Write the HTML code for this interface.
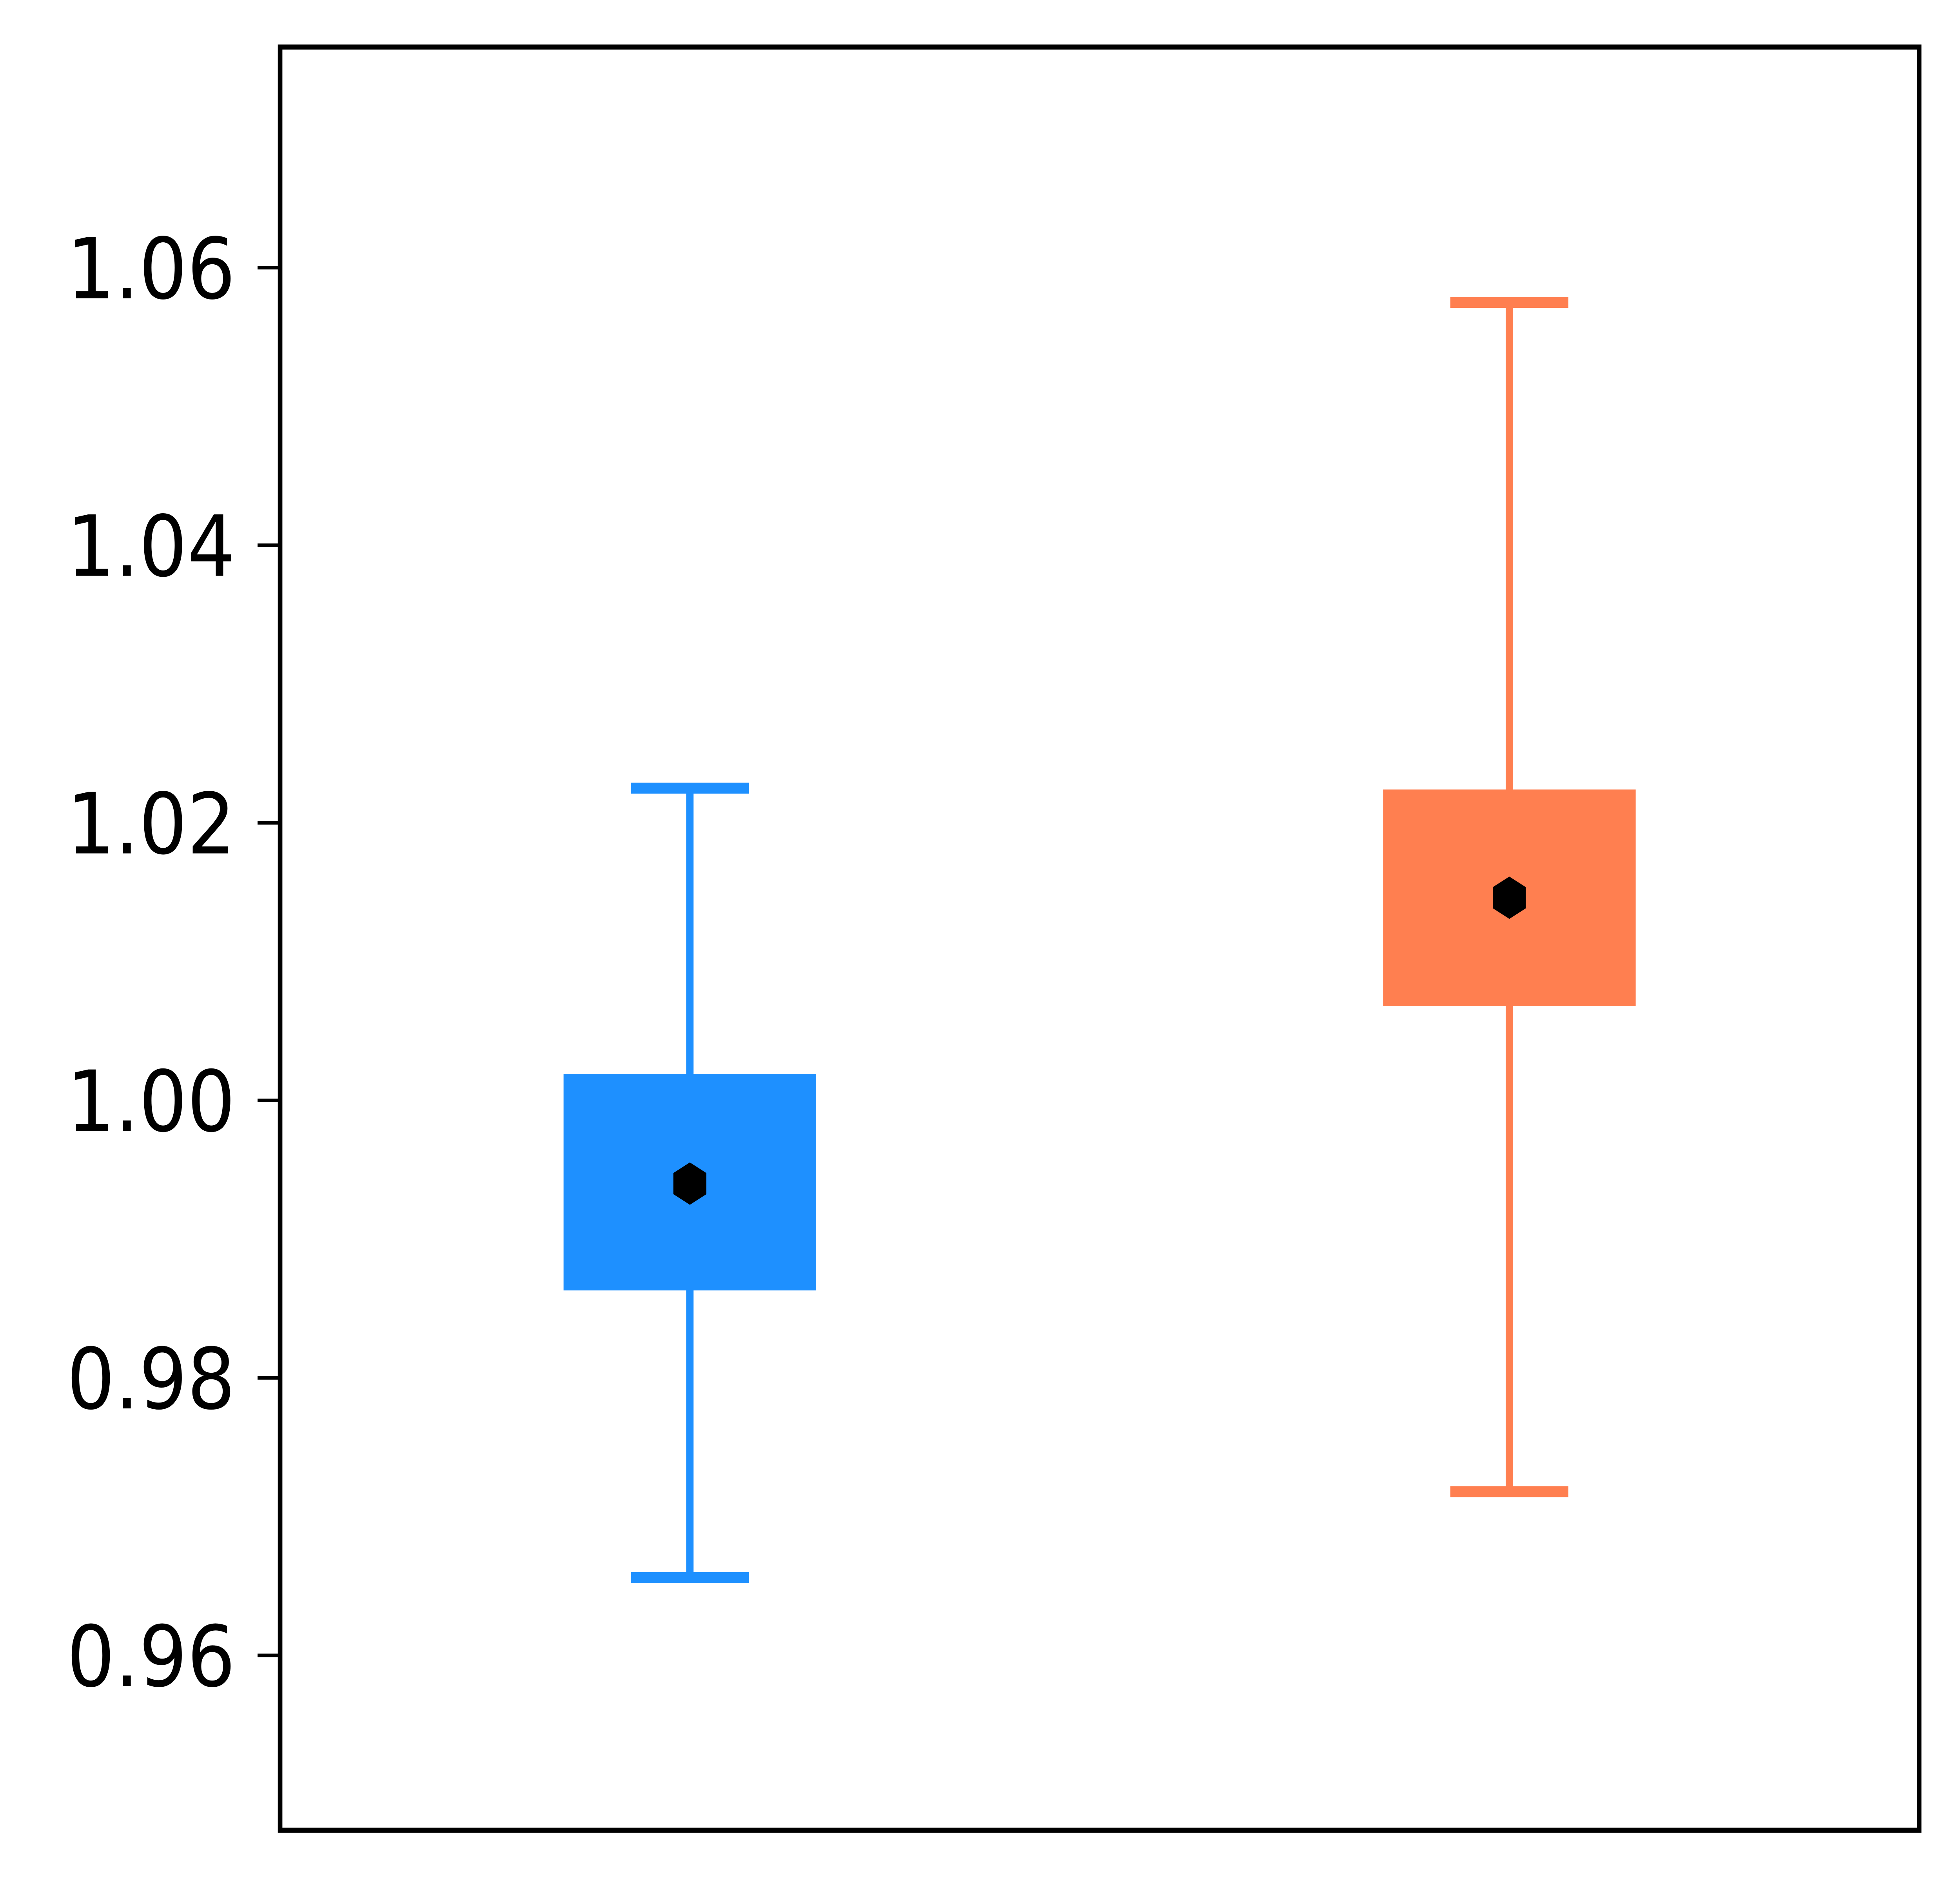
<!DOCTYPE html>
<html><head><meta charset="utf-8"><style>
html,body{margin:0;padding:0;background:#fff;width:100%;height:100%;overflow:hidden;}
svg{display:block;width:100vw;height:100vh;}
</style></head><body>
<svg id="chart" viewBox="0 0 5563 4828" preserveAspectRatio="none" xmlns="http://www.w3.org/2000/svg">
<rect x="0" y="0" width="5563" height="4828" fill="#fff"/>
<g id="plot"></g>
</svg>
<script>
const categories = ["A", "B"];
const colors = ["#1E90FF", "#FF7F50"];
const whiskerLow = [0.9656, 0.9718];
const q1 = [0.9863, 1.0068];
const q3 = [1.0019, 1.0224];
const whiskerHigh = [1.0225, 1.0575];
const means = [0.9940, 1.0146];
const tickValues = [0.96, 0.98, 1.00, 1.02, 1.04, 1.06];
const tickLabels = ["0.96", "0.98", "1.00", "1.02", "1.04", "1.06"];

const L = 795, R = 5447, T = 120, B = 4668;
const yMin = 0.9474, yMax = 1.0759;
function y(v){ return B - (v - yMin) / (yMax - yMin) * (B - T); }
function xc(i){ return L + (0.25 + 0.5 * i) * (R - L); }

const NS = "http://www.w3.org/2000/svg";
const g = document.getElementById('plot');
function el(tag, attrs, parent){
  const e = document.createElementNS(NS, tag);
  for (const k in attrs) e.setAttribute(k, attrs[k]);
  (parent || g).appendChild(e);
  return e;
}

const boxW = 717, capW = 335, lw = 21, capH = 28;
categories.forEach((c, i) => {
  const cx = xc(i);
  const col = colors[i];
  const w1 = el('line', {x1: cx, x2: cx, y1: y(whiskerHigh[i]), y2: y(whiskerLow[i]), stroke: col, 'stroke-width': lw});
  
  
  const ct = el('line', {x1: cx - capW/2, x2: cx + capW/2, y1: y(whiskerHigh[i]), y2: y(whiskerHigh[i]), stroke: col, 'stroke-width': capH});
  
  
  const cb = el('line', {x1: cx - capW/2, x2: cx + capW/2, y1: y(whiskerLow[i]), y2: y(whiskerLow[i]), stroke: col, 'stroke-width': capH});
  
  
  const bx = el('rect', {x: cx - boxW/2, y: y(q3[i]), width: boxW, height: y(q1[i]) - y(q3[i]), fill: col});
  
  
  const my = y(means[i]), r = 54;
  let pts = [];
  for (let k = 0; k < 6; k++){ const a = Math.PI/2 + k*Math.PI/3; pts.push((cx + r*Math.cos(a)).toFixed(1) + ',' + (my + r*Math.sin(a)).toFixed(1)); }
  const m = el('polygon', {points: pts.join(' '), fill: '#000'});
  
  
});

tickValues.forEach((v, i) => {
  const ty = y(v);
  const t = el('line', {x1: L - 64, x2: L, y1: ty, y2: ty, stroke: '#000', 'stroke-width': 9});
  
  
  const tx = el('text', {x: 668, y: ty + 78, 'text-anchor': 'end', 'font-family': '"DejaVu Sans", "Liberation Sans", sans-serif', 'font-size': 215, fill: '#000'});
  tx.textContent = tickLabels[i];
  
  
});

const frame = el('rect', {x: L, y: T, width: R - L, height: B - T, fill: 'none', stroke: '#000', 'stroke-width': 13});


</script>
</body></html>
